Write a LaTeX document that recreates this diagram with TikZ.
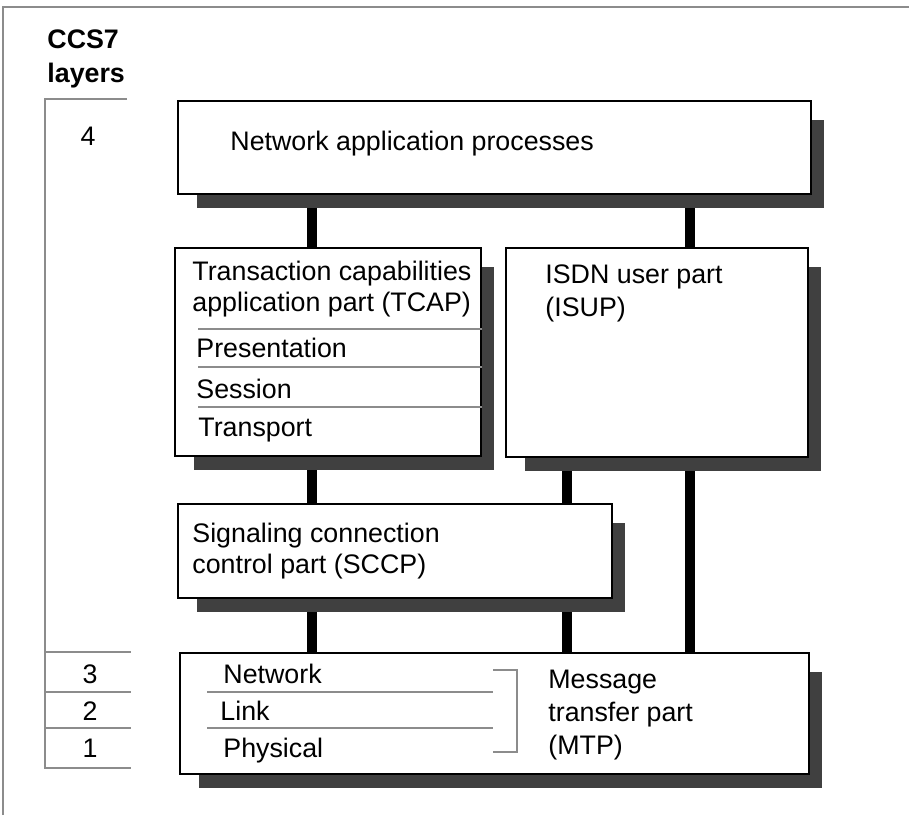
\documentclass[tikz,border=0pt]{standalone}
\usepackage{fontspec}
\setmainfont{Liberation Sans}
\usepackage{tikz}
\usetikzlibrary{positioning,backgrounds}
\definecolor{rulegray}{RGB}{140,140,140}
\definecolor{shadegray}{RGB}{64,64,64}
\tikzset{
  unitbox/.style={draw=black, line width=1pt, fill=white, inner sep=0pt, anchor=north west},
  lbl/.style={inner sep=0pt, anchor=base west, font=\fontsize{13.4}{16}\selectfont},
  num/.style={inner sep=0pt, anchor=base, font=\fontsize{13.4}{16}\selectfont},
  rule/.style={draw=rulegray, line width=1pt},
  bar/.style={draw=black, line width=5pt},
}
% drop shadow behind a named box
\newcommand{\dropshade}[1]{\fill[shadegray] ([xshift=10pt,yshift=-6.5pt]#1.south west) rectangle ([xshift=6pt,yshift=-10pt]#1.north east);}

\begin{document}
\begin{tikzpicture}[x=0.5pt,y=-0.5pt]
      \useasboundingbox (0,0) rectangle (909,815);
      % frame
      \draw[rule] (3,815) -- (3,7) -- (909,7);
      % layer scale
      \node[lbl] (ccs) at (47,48) {\bfseries CCS7};
      \node[lbl] (lay) at (47,82) {\bfseries layers};
      \draw[rule] (127,99) -- (45,99) -- (45,768) -- (131,768);
      \foreach \y in {652,692,728} \draw[rule] (45,\y) -- (131,\y);
      \node[num] (l4) at (88,145) {4};
      \node[num] (l3) at (90,683) {3};
      \node[num] (l2) at (90,720) {2};
      \node[num] (l1) at (90,757) {1};
      % boxes
      \node[unitbox, minimum width=316.5pt, minimum height=46.5pt] (nap) at (177,100) {};
      \node[unitbox, minimum width=153pt, minimum height=104pt] (tcap) at (174,247) {};
      \node[unitbox, minimum width=151pt, minimum height=104.5pt] (isup) at (505,247) {};
      \node[unitbox, minimum width=217pt, minimum height=47pt] (sccp) at (177,503) {};
      \node[unitbox, minimum width=314.5pt, minimum height=60.5pt] (mtp) at (179,652) {};
      % connectors and shadows
      \coordinate (cx1) at (312,0);
      \coordinate (cx2) at (567,0);
      \coordinate (cx3) at (690,0);
      \begin{scope}[on background layer]
        \draw[bar] (nap.south -| cx1) -- (tcap.north -| cx1);
        \draw[bar] (nap.south -| cx3) -- (isup.north -| cx3);
        \draw[bar] (tcap.south -| cx1) -- (sccp.north -| cx1);
        \draw[bar] (isup.south -| cx2) -- (sccp.north -| cx2);
        \draw[bar] (sccp.south -| cx1) -- (mtp.north -| cx1);
        \draw[bar] (sccp.south -| cx2) -- (mtp.north -| cx2);
        \draw[bar] (isup.south -| cx3) -- (mtp.north -| cx3);
        \foreach \b in {nap,tcap,isup,sccp,mtp} {\dropshade{\b}}
      \end{scope}
      % texts
      \node[lbl] (napt) at (230,150) {Network application processes};
      \node[lbl] (tcapa) at (192,280) {Transaction capabilities};
      \node[lbl] (tcapb) at (192,311) {application part (TCAP)};
      \foreach \y in {329,367,407} \draw[rule] (198,\y) -- (tcap.east |- 0,\y);
      \node[lbl] (pres) at (196,357) {Presentation};
      \node[lbl] (sess) at (196,398) {Session};
      \node[lbl] (trans) at (198,436) {Transport};
      \node[lbl] (isupa) at (545,283) {ISDN user part};
      \node[lbl] (isupb) at (545,316) {(ISUP)};
      \node[lbl] (sccpa) at (192,542) {Signaling connection};
      \node[lbl] (sccpb) at (192,573) {control part (SCCP)};
      \node[lbl] (netw) at (223,683) {Network};
      \node[lbl] (link) at (220,720) {Link};
      \node[lbl] (phys) at (223,757) {Physical};
      \foreach \y in {692,728} \draw[rule] (207,\y) -- (493,\y);
      \draw[rule] (493,670) -- (517,670) -- (517,752) -- (493,752);
      \node[lbl] (mtpa) at (548,688) {Message};
      \node[lbl] (mtpb) at (548,721) {transfer part};
      \node[lbl] (mtpc) at (548,754) {(MTP)};
    \end{tikzpicture}
\end{document}
